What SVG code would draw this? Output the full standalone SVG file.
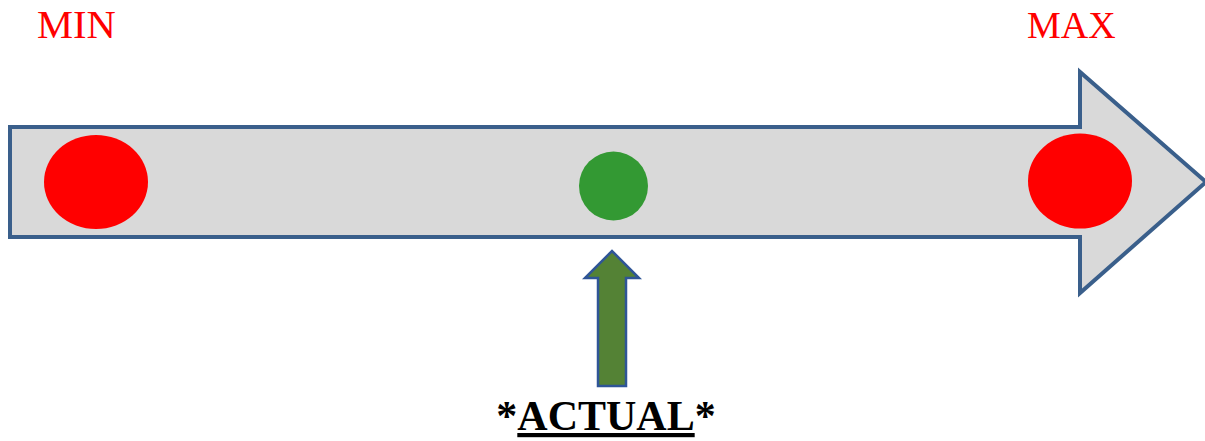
<svg xmlns="http://www.w3.org/2000/svg" width="1205" height="441" viewBox="0 0 1205 441">
<style>
.lbl{font-family:"Liberation Serif","Times New Roman",serif;fill:#FF0000;font-size:39px}
.big{fill:#D9D9D9;stroke:#3A5F8B;stroke-width:4;stroke-linejoin:miter}
.red{fill:#FF0000}
.grn{fill:#339933}
.up{fill:#548235;stroke:#2F5597;stroke-width:2.5}
.act{font-family:"Liberation Serif","Times New Roman",serif;font-weight:bold;font-size:42px;fill:#000}
</style>
<rect width="1205" height="441" fill="#FFFFFF"/>
<g id="connectors">
<path id="main-arrow" class="big" d="M10,127 L1080,127 L1080,72 L1206,182 L1080,293 L1080,237 L10,237 Z"/>
<path id="actual-arrow" class="up" d="M598,386 L598,278 L585,278 L612,251 L639,278 L626,278 L626,386 Z"/>
</g>
<g id="min">
<text class="lbl" x="37" y="38" style="font-size:40.5px">MIN</text>
<ellipse class="red" cx="96" cy="182" rx="52" ry="47"/>
</g>
<g id="max">
<text class="lbl" x="1027" y="38" style="font-size:38px">MAX</text>
<ellipse class="red" cx="1080" cy="181" rx="52" ry="47.5"/>
</g>
<g id="actual">
<ellipse class="grn" cx="613.5" cy="186" rx="34.5" ry="34.5"/>
<text class="act" x="606" y="430" text-anchor="middle">*<tspan text-decoration="underline">ACTUAL</tspan>*</text>
</g>
</svg>
